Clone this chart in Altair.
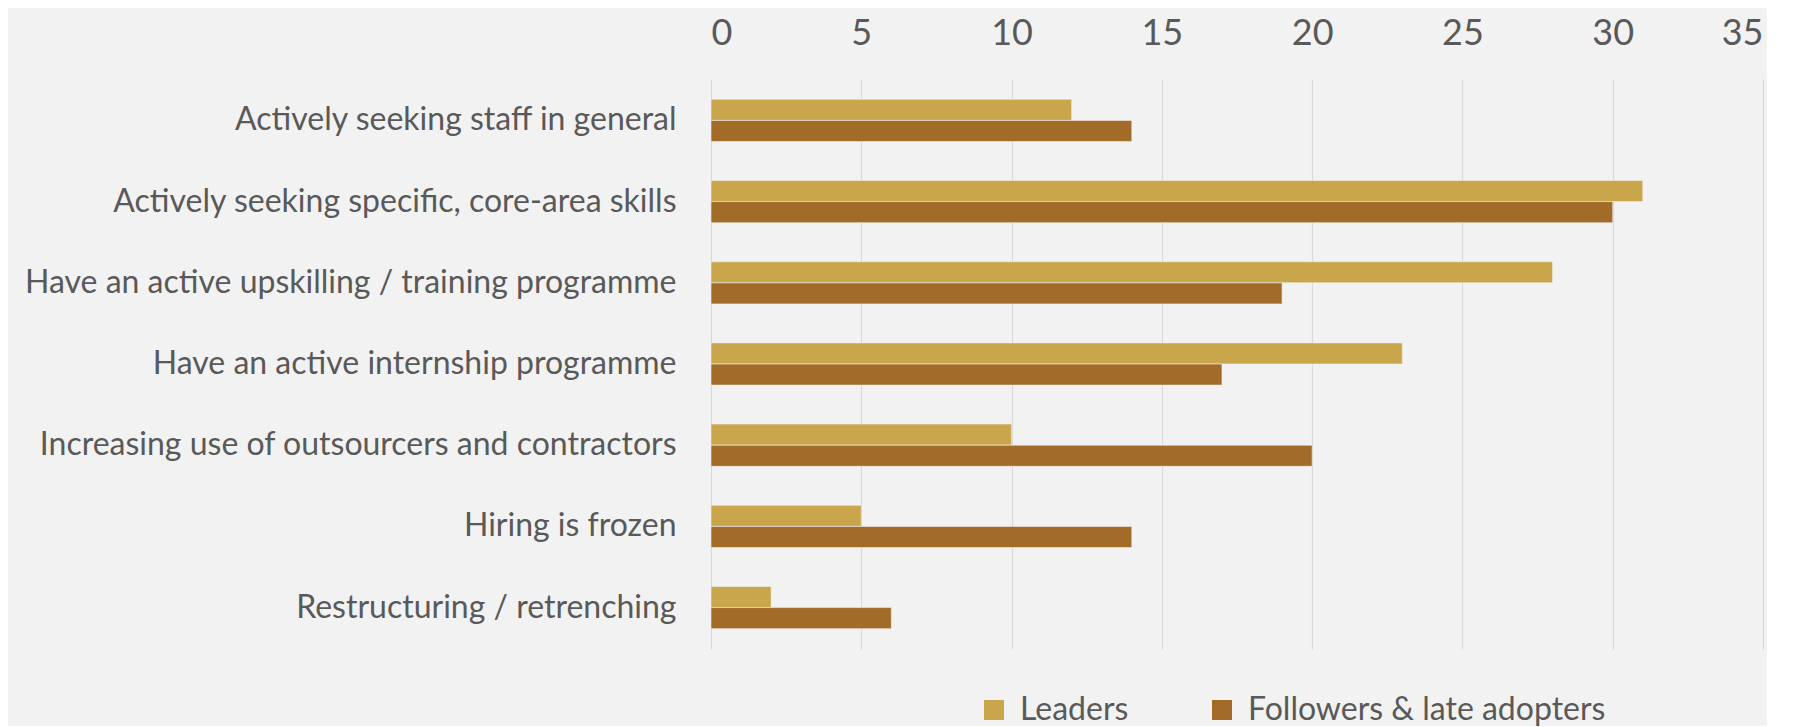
import altair as alt
import pandas as pd

categories = [
    "Actively seeking staff in general",
    "Actively seeking specific, core-area skills",
    "Have an active upskilling / training programme",
    "Have an active internship programme",
    "Increasing use of outsourcers and contractors",
    "Hiring is frozen",
    "Restructuring / retrenching",
]
series = ["Leaders", "Followers & late adopters"]
leaders = [12, 31, 28, 23, 10, 5, 2]
followers = [14, 30, 19, 17, 20, 14, 6]
x_ticks = [0, 5, 10, 15, 20, 25, 30, 35]
colors = ["#C9A64B", "#A26B28"]

rows = []
for c, l, f in zip(categories, leaders, followers):
    rows.append({"category": c, "series": series[0], "value": l})
    rows.append({"category": c, "series": series[1], "value": f})
df = pd.DataFrame(rows)

FONT = "Lato"
TXT = "#595959"

chart = (
    alt.Chart(df)
    .mark_bar(stroke="#F2F2F2", strokeWidth=0.6)
    .encode(
        x=alt.X(
            "value:Q",
            scale=alt.Scale(domain=[0, 35], nice=False),
            axis=alt.Axis(
                orient="top",
                values=x_ticks,
                title=None,
                domain=False,
                ticks=False,
                labelPadding=27,
                labelFontSize=36,
                labelColor=TXT,
                labelFont=FONT,
                grid=True,
                gridColor="#D9D9D9",
                gridWidth=1.2,
            ),
        ),
        y=alt.Y(
            "category:N",
            sort=categories,
            scale=alt.Scale(paddingInner=0.48, paddingOuter=0.25),
            axis=alt.Axis(
                title=None,
                domain=False,
                ticks=False,
                labelPadding=35,
                labelFontSize=32,
                labelColor=TXT,
                labelFont=FONT,
                labelLimit=800,
            ),
        ),
        yOffset=alt.YOffset("series:N", sort=series),
        color=alt.Color(
            "series:N",
            sort=series,
            scale=alt.Scale(domain=series, range=colors),
            legend=alt.Legend(
                title=None,
                orient="none",
                direction="horizontal",
                legendX=267,
                legendY=615,
                symbolType="square",
                symbolSize=400,
                symbolStrokeWidth=0,
                labelFontSize=32,
                labelFont=FONT,
                labelColor=TXT,
                columnPadding=77,
                labelOffset=10,
                padding=0,
                labelLimit=600,
            ),
        ),
    )
    .properties(width=1052, height=570)
    .configure(background="#F2F2F2")
    .configure_view(stroke=None)
    .configure_axis(gridOpacity=1)
    .properties(padding={"left": 16, "top": 7, "right": 4, "bottom": 0})
)

chart.save("out.html", embed_options={"renderer": "svg", "actions": False})
